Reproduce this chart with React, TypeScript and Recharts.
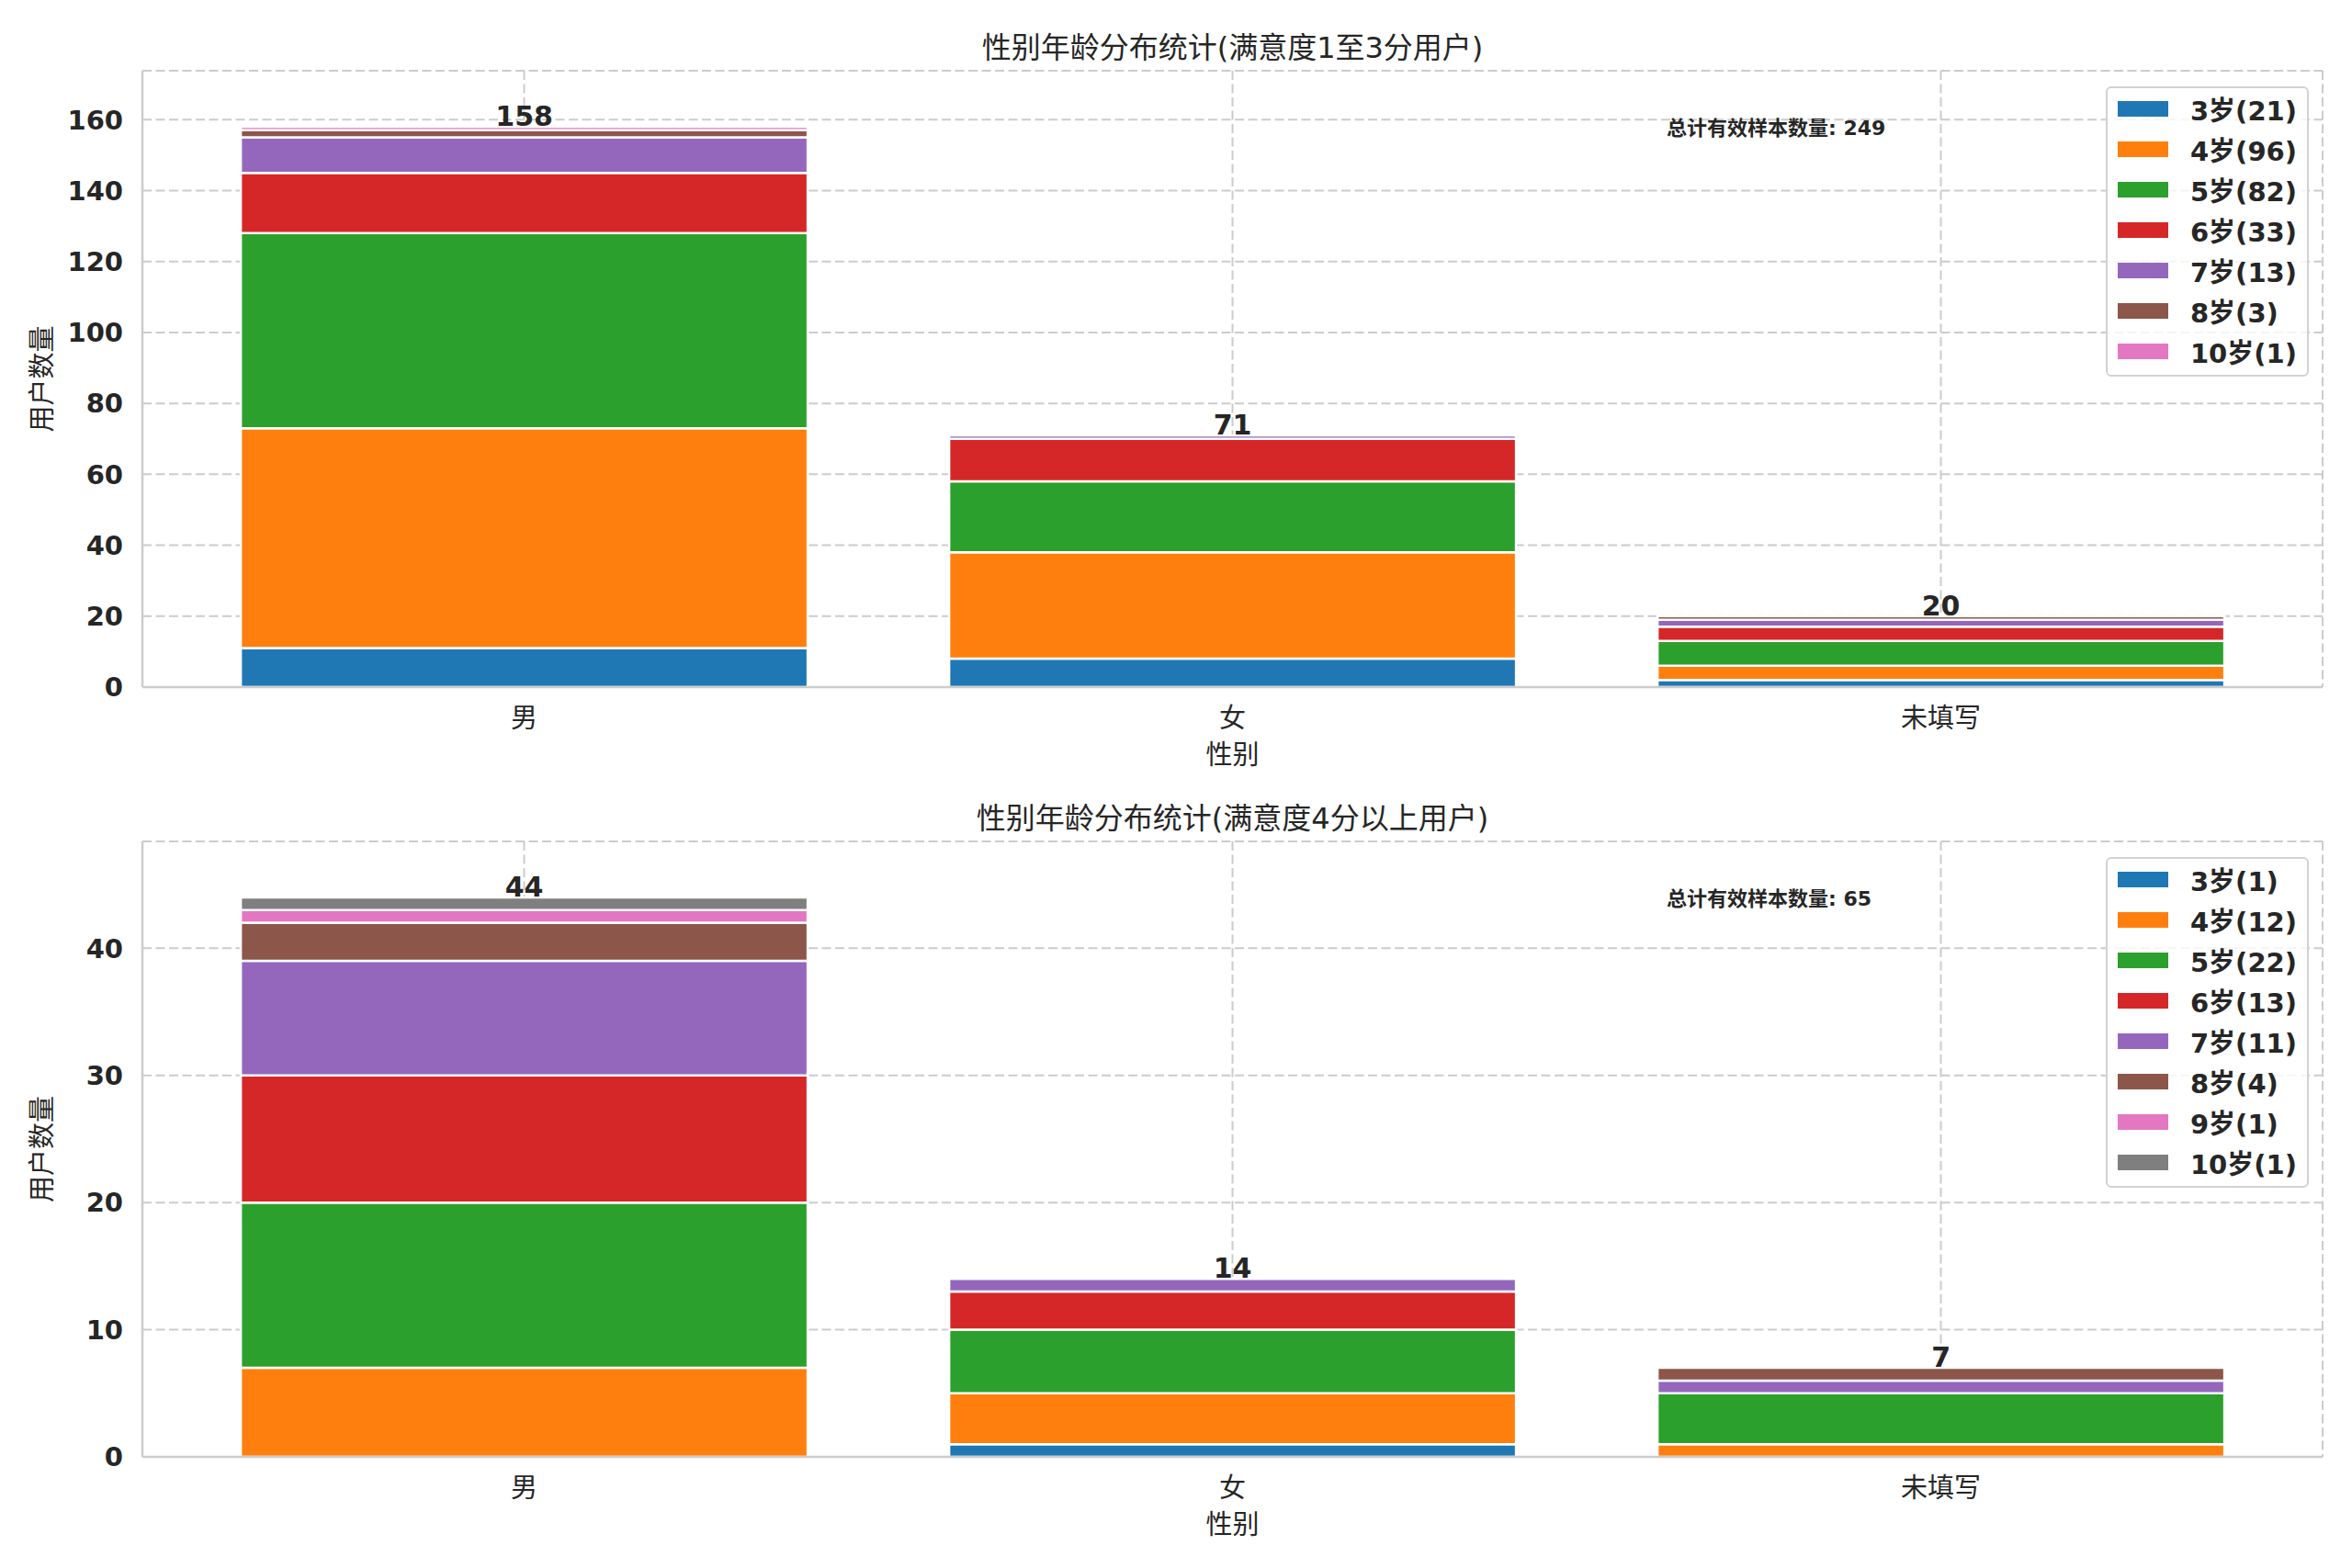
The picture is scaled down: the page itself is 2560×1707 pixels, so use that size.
import React from 'react';
import { BarChart, Bar, XAxis, YAxis, CartesianGrid, LabelList, Legend } from 'recharts';

const FONT = '"DejaVu Sans", "Noto Sans CJK SC", sans-serif';
const TEXT = '#262626';
const GRID = '#cccccc';

const genders = ['男', '女', '未填写'];

// Panel A: 满意度 1–3
const titleA = '性别年龄分布统计(满意度1至3分用户)';
const agesA = ['3岁', '4岁', '5岁', '6岁', '7岁', '8岁', '10岁'];
const a_age3 = [11, 8, 2];
const a_age4 = [62, 30, 4];
const a_age5 = [55, 20, 7];
const a_age6 = [17, 12, 4];
const a_age7 = [10, 1, 2];
const a_age8 = [2, 0, 1];
const a_age10 = [1, 0, 0];
const seriesA = [a_age3, a_age4, a_age5, a_age6, a_age7, a_age8, a_age10];
const yTicksA = [0, 20, 40, 60, 80, 100, 120, 140, 160];
const yMaxA = 173.8;

// Panel B: 满意度 4+
const titleB = '性别年龄分布统计(满意度4分以上用户)';
const agesB = ['3岁', '4岁', '5岁', '6岁', '7岁', '8岁', '9岁', '10岁'];
const b_age3 = [0, 1, 0];
const b_age4 = [7, 4, 1];
const b_age5 = [13, 5, 4];
const b_age6 = [10, 3, 0];
const b_age7 = [9, 1, 1];
const b_age8 = [3, 0, 1];
const b_age9 = [1, 0, 0];
const b_age10 = [1, 0, 0];
const seriesB = [b_age3, b_age4, b_age5, b_age6, b_age7, b_age8, b_age9, b_age10];
const yTicksB = [0, 10, 20, 30, 40];
const yMaxB = 48.4;

const palette = ['#1f77b4', '#ff7f0e', '#2ca02c', '#d62728', '#9467bd', '#8c564b', '#e377c2', '#7f7f7f'];

const noteLabel = '总计有效样本数量';
const xLabel = '性别';
const yLabel = '用户数量';

const W = 2560;
const PLOT_LEFT = 155;
const PLOT_RIGHT = 2528;

type PanelProps = {
  title: string;
  ages: string[];
  series: number[][];
  yTicks: number[];
  yMax: number;
  top: number;
  height: number;
  plotTop: number;
  xAxisHeight: number;
};

function Panel({ title, ages, series, yTicks, yMax, top, height, plotTop, xAxisHeight }: PanelProps) {
  const rows = genders.map((g, i) => {
    const r: any = { gender: g };
    series.forEach((s, k) => {
      r['s' + k] = s[i];
    });
    return r;
  });
  const totals = genders.map((_, i) => series.reduce((acc, s) => acc + s[i], 0));
  const grand = totals.reduce((a, b) => a + b, 0);
  const sums = series.map((s) => s.reduce((a, b) => a + b, 0));
  // index of the topmost non-empty segment in each stack
  const topSeries = genders.map((_, i) => {
    let t = 0;
    series.forEach((s, k) => {
      if (s[i] > 0) t = k;
    });
    return t;
  });

  const makeTotalLabel = (k: number) => (props: any) => {
    const { x, y, width, value } = props;
    const gi = genders.indexOf(String(value));
    if (gi < 0 || topSeries[gi] !== k) return null;
    return (
      <text
        x={Number(x) + Number(width) / 2}
        y={Number(y) - 1}
        textAnchor="middle"
        fontSize={30}
        fontWeight="bold"
        fill={TEXT}
        fontFamily={FONT}
      >
        {totals[gi]}
      </text>
    );
  };

  const legendContent = () => (
    <div
      style={{
        border: '2px solid #d2d2d2',
        borderRadius: 6,
        background: 'rgba(255,255,255,0.8)',
        padding: '0px 11px 4px 11px',
        fontFamily: FONT,
        fontWeight: 'bold',
        fontSize: 29,
        color: TEXT,
        whiteSpace: 'nowrap',
      }}
    >
      {ages.map((a, k) => (
        <div key={k} style={{ display: 'flex', alignItems: 'center', height: 44 }}>
          <span style={{ display: 'inline-block', width: 55, height: 17, background: palette[k], marginRight: 24 }} />
          <span>
            {a}({sums[k]})
          </span>
        </div>
      ))}
    </div>
  );

  return (
    <div style={{ position: 'absolute', left: 0, top, width: W, height }}>
      <BarChart
        width={W}
        height={height}
        data={rows}
        margin={{ top: plotTop, right: W - PLOT_RIGHT, bottom: 0, left: 20 }}
        barCategoryGap="10%"
      >
        <CartesianGrid stroke={GRID} strokeDasharray="10 4.5" strokeWidth={2} />
        <XAxis
          dataKey="gender"
          height={xAxisHeight}
          padding={{ left: 30, right: 30 }}
          tickSize={0}
          tickMargin={23}
          tickLine={false}
          axisLine={{ stroke: GRID, strokeWidth: 2.5 }}
          tick={{ fontSize: 29, fill: TEXT, fontFamily: FONT }}
          label={{
            value: xLabel,
            position: 'insideBottom',
            offset: xAxisHeight - 84,
            style: { fontSize: 29, fill: TEXT, fontFamily: FONT },
          }}
        />
        <XAxis
          xAxisId="frameTop"
          orientation="top"
          dataKey="gender"
          height={0}
          tick={false}
          tickLine={false}
          axisLine={{ stroke: GRID, strokeWidth: 2.5 }}
        />
        <YAxis
          width={135}
          domain={[0, yMax]}
          ticks={yTicks}
          allowDataOverflow
          tickSize={0}
          tickMargin={21}
          tickLine={false}
          axisLine={{ stroke: GRID, strokeWidth: 2.5 }}
          tick={{ fontSize: 29, fill: TEXT, fontFamily: FONT, fontWeight: 'bold' }}
          label={{
            value: yLabel,
            angle: -90,
            position: 'insideLeft',
            offset: 26,
            style: { fontSize: 29, fill: TEXT, fontFamily: FONT, textAnchor: 'middle' },
          }}
        />
        <YAxis
          yAxisId="frameRight"
          orientation="right"
          width={0}
          domain={[0, yMax]}
          tick={false}
          tickLine={false}
          axisLine={{ stroke: GRID, strokeWidth: 2.5 }}
        />
        {series.map((_, k) => (
          <Bar
            key={k}
            dataKey={'s' + k}
            name={ages[k]}
            stackId="a"
            fill={palette[k]}
            stroke="#ffffff"
            strokeWidth={2.5}
            isAnimationActive={false}
          >
            <LabelList dataKey="gender" content={makeTotalLabel(k)} />
          </Bar>
        ))}
        <Legend
          layout="horizontal"
          verticalAlign="middle"
          align="center"
          content={legendContent}
          wrapperStyle={{
            position: 'absolute',
            top: plotTop + 17,
            right: W - 2513,
            left: 'auto',
            bottom: 'auto',
            width: 'auto',
            height: 'auto',
          }}
        />
      </BarChart>
      <div
        style={{
          position: 'absolute',
          left: (PLOT_LEFT + PLOT_RIGHT) / 2,
          top: plotTop - 28,
          transform: 'translate(-50%, -50%)',
          fontFamily: FONT,
          fontSize: 32,
          color: TEXT,
          whiteSpace: 'nowrap',
        }}
      >
        {title}
      </div>
      <div
        style={{
          position: 'absolute',
          left: 1814,
          top: plotTop + 60,
          transform: 'translateY(-50%)',
          fontFamily: FONT,
          fontSize: 22,
          fontWeight: 'bold',
          color: TEXT,
          whiteSpace: 'nowrap',
        }}
      >
        {noteLabel}: {grand}
      </div>
    </div>
  );
}

export default function App() {
  return (
    <div style={{ position: 'absolute', left: 0, top: 0, width: W, height: 1707, background: '#ffffff' }}>
      <Panel
        title={titleA}
        ages={agesA}
        series={seriesA}
        yTicks={yTicksA}
        yMax={yMaxA}
        top={0}
        height={853}
        plotTop={77}
        xAxisHeight={105}
      />
      <Panel
        title={titleB}
        ages={agesB}
        series={seriesB}
        yTicks={yTicksB}
        yMax={yMaxB}
        top={853}
        height={854}
        plotTop={63}
        xAxisHeight={121}
      />
    </div>
  );
}
